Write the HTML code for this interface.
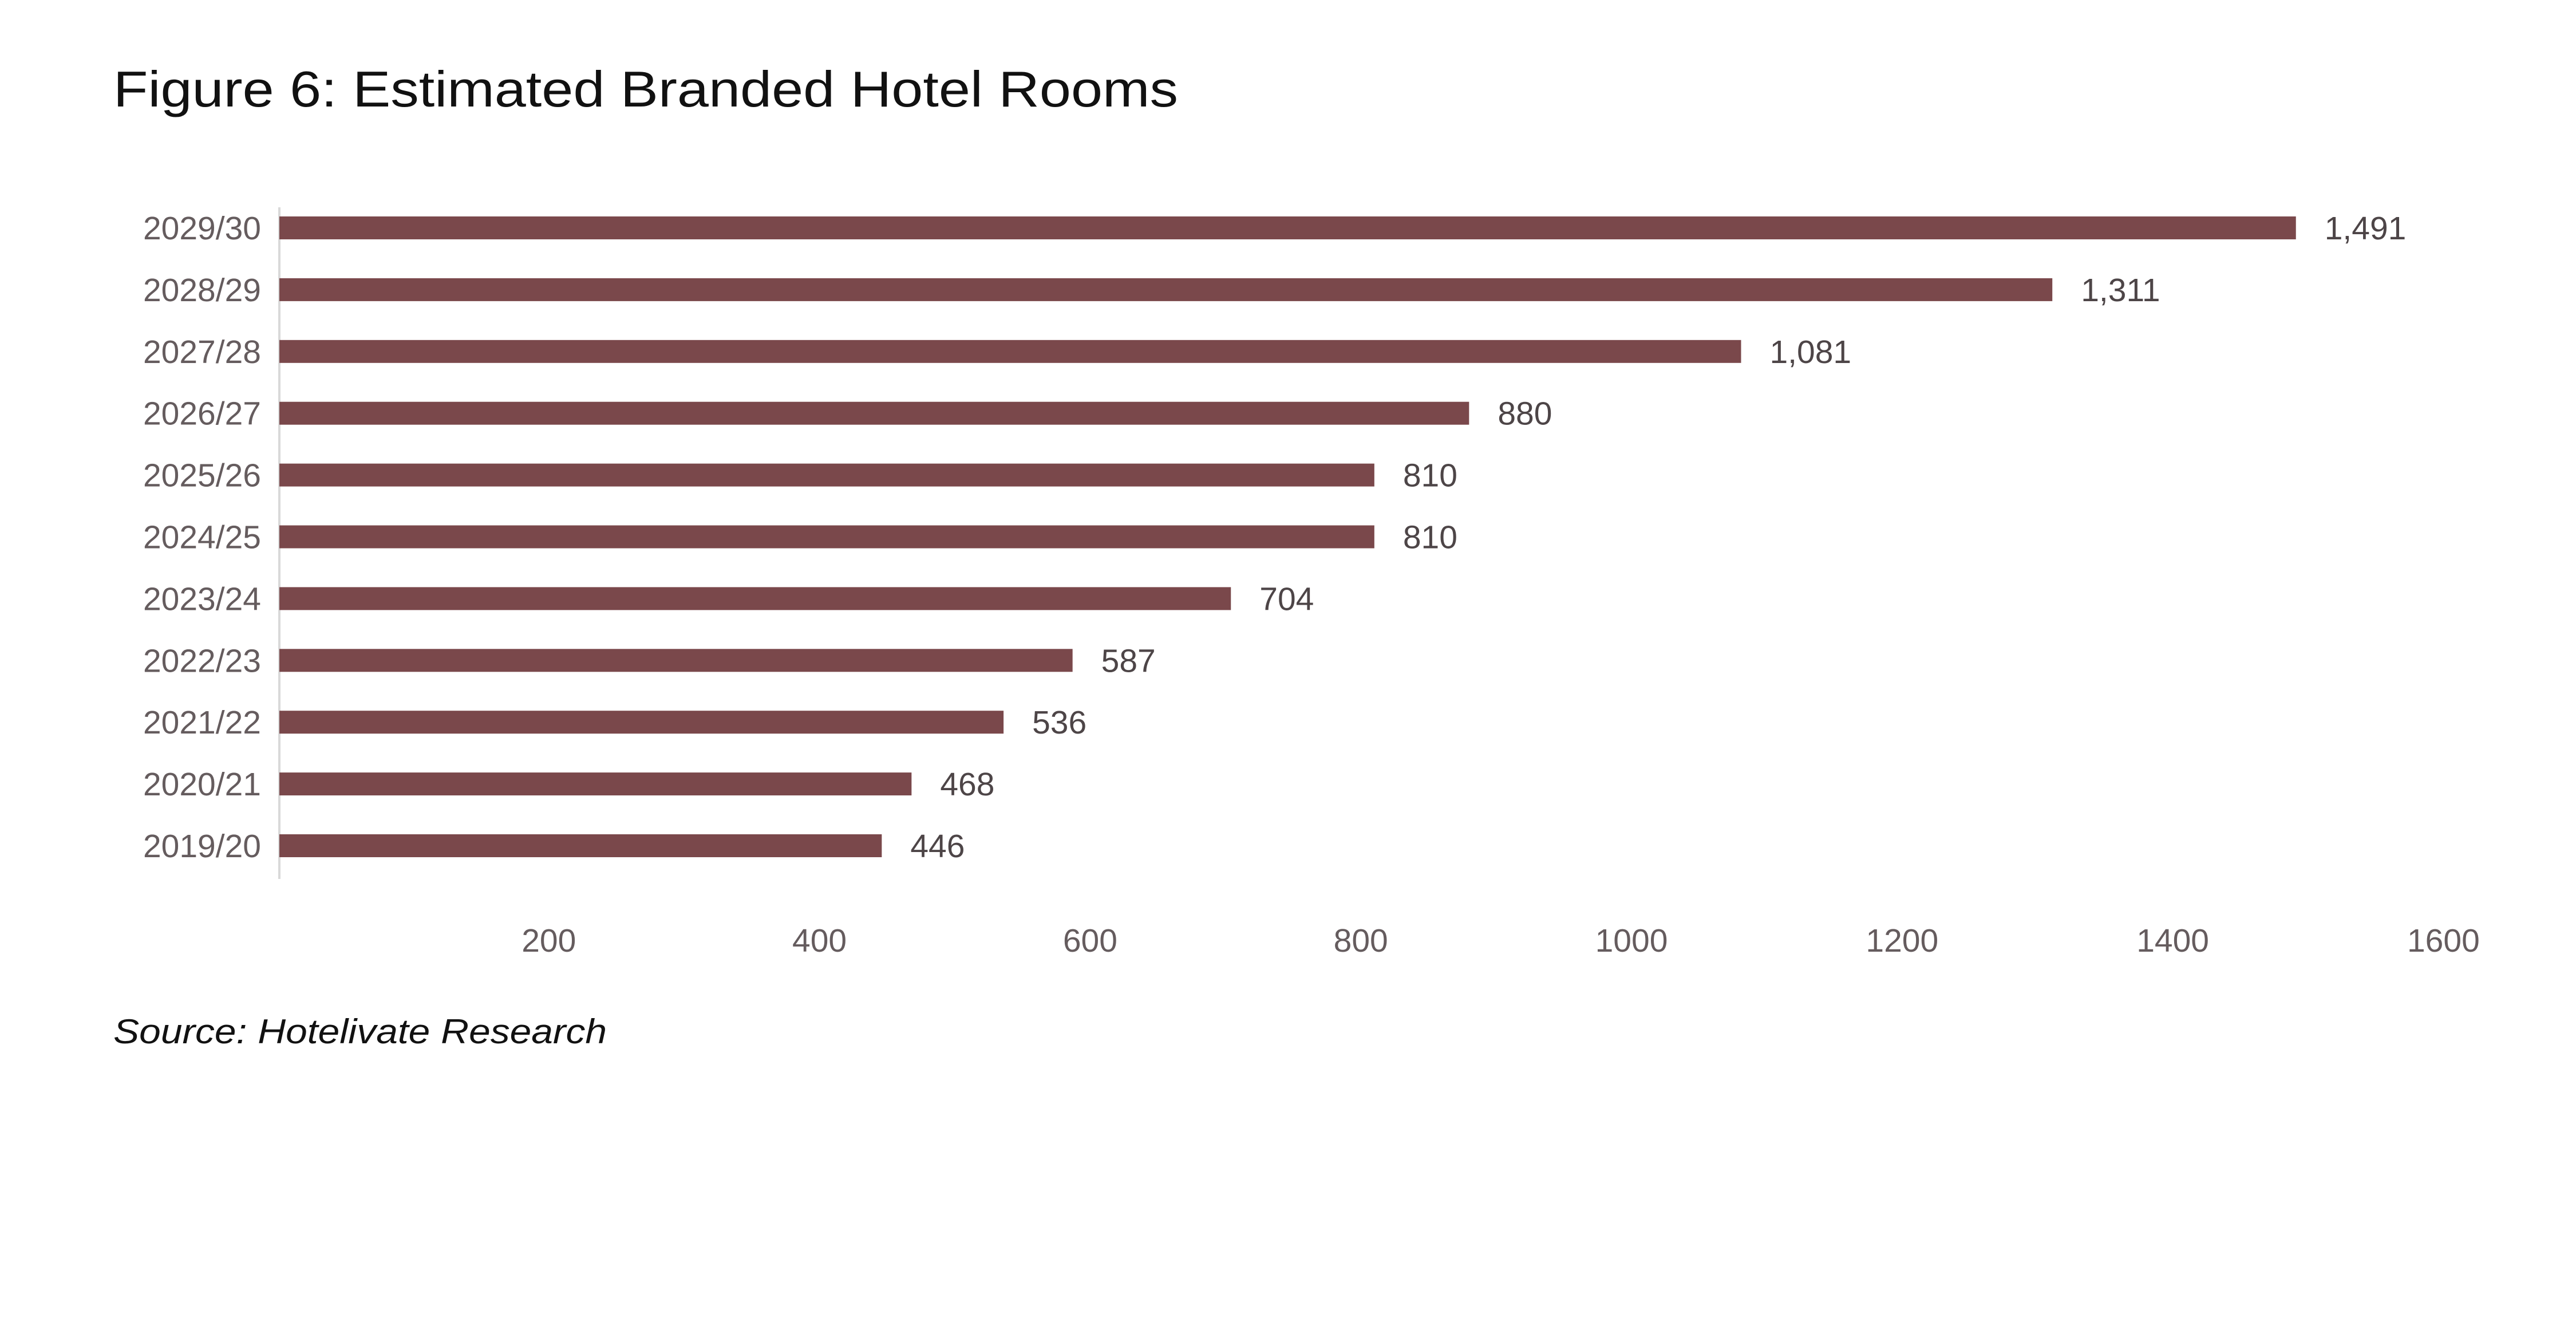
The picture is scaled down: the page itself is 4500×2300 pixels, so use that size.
<!DOCTYPE html>
<html><head><meta charset="utf-8"><style>
html,body{margin:0;padding:0;background:#fff;}
svg{display:block;font-family:"Liberation Sans",sans-serif;}
</style></head><body>
<svg id="chart" width="4500" height="2300" viewBox="0 0 4500 2300" xmlns="http://www.w3.org/2000/svg">
<text x="198" y="186" font-size="88" fill="#111" textLength="1860" lengthAdjust="spacingAndGlyphs">Figure 6: Estimated Branded Hotel Rooms</text>
<line x1="488" y1="362" x2="488" y2="1535" stroke="#d9d9d9" stroke-width="4"/>
<g id="bars"></g>
<text x="198" y="1822" font-size="60" font-style="italic" fill="#111" textLength="862" lengthAdjust="spacingAndGlyphs">Source: Hotelivate Research</text>
</svg>
<script>
const categories = ["2029/30","2028/29","2027/28","2026/27","2025/26","2024/25","2023/24","2022/23","2021/22","2020/21","2019/20"];
const values = [1491,1311,1081,880,810,810,704,587,536,468,446];
const valueLabels = ["1,491","1,311","1,081","880","810","810","704","587","536","468","446"];
const ticks = [200,400,600,800,1000,1200,1400,1600];

const NS = "http://www.w3.org/2000/svg";
const x0 = 486, unit = 2.364;
const yTop = 398, step = 107.9, barH = 40;
function xScale(v){ return x0 + v*unit; }
function yScale(i){ return yTop + i*step; }
const g = document.getElementById('bars');
categories.forEach((c,i)=>{
  const yc = yScale(i);
  const r = document.createElementNS(NS,'rect');
  
  
  r.setAttribute('x', x0+2);
  r.setAttribute('y', yc-barH/2);
  r.setAttribute('width', xScale(values[i])-x0-2);
  r.setAttribute('height', barH);
  r.setAttribute('fill', '#7a484b');
  g.appendChild(r);
  const t = document.createElementNS(NS,'text');
  
  
  t.setAttribute('x', 456);
  t.setAttribute('y', yc+20);
  t.setAttribute('text-anchor', 'end');
  t.setAttribute('font-size', '57');
  t.setAttribute('fill', '#655c5e');
  t.textContent = c;
  g.appendChild(t);
  const v = document.createElementNS(NS,'text');
  
  
  v.setAttribute('x', xScale(values[i])+50);
  v.setAttribute('y', yc+20);
  v.setAttribute('font-size', '57');
  v.setAttribute('fill', '#4d4547');
  v.textContent = valueLabels[i];
  g.appendChild(v);
});
ticks.forEach(tk=>{
  const t = document.createElementNS(NS,'text');
  
  
  t.setAttribute('x', xScale(tk));
  t.setAttribute('y', 1662);
  t.setAttribute('text-anchor', 'middle');
  t.setAttribute('font-size', '57');
  t.setAttribute('fill', '#655c5e');
  t.textContent = tk;
  g.appendChild(t);
});
</script>
</body></html>
